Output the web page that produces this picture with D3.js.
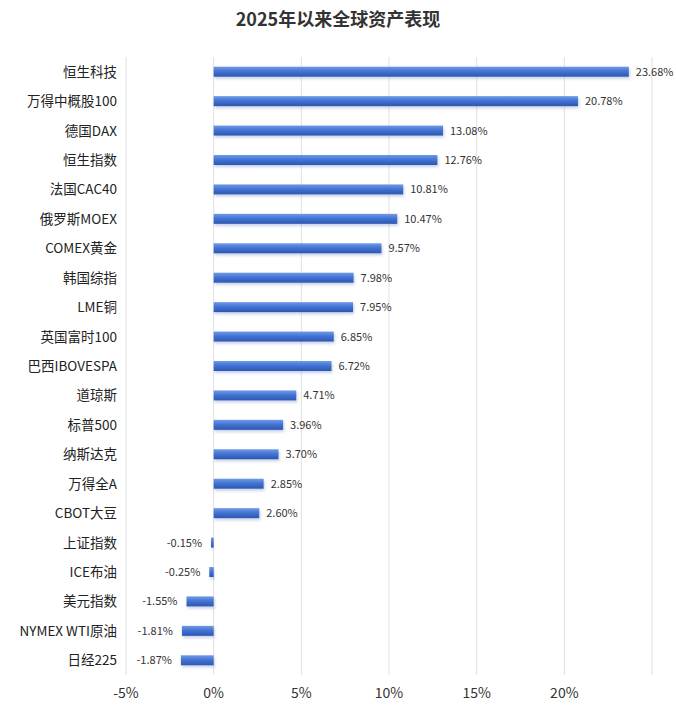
<!DOCTYPE html>
<html><head><meta charset="utf-8">
<script src="https://cdn.jsdelivr.net/npm/d3@7"></script>
<style>body{margin:0;background:#fff;font-family:"Noto Sans CJK SC","Noto Sans",sans-serif;}</style>
</head><body><svg id="c" width="676" height="716"></svg>
<script>
const categories = ["恒生科技","万得中概股100","德国DAX","恒生指数","法国CAC40","俄罗斯MOEX","COMEX黄金","韩国综指","LME铜","英国富时100","巴西IBOVESPA","道琼斯","标普500","纳斯达克","万得全A","CBOT大豆","上证指数","ICE布油","美元指数","NYMEX WTI原油","日经225"];
const values = [23.68,20.78,13.08,12.76,10.81,10.47,9.57,7.98,7.95,6.85,6.72,4.71,3.96,3.70,2.85,2.60,-0.15,-0.25,-1.55,-1.81,-1.87];
const ticks = [-5,0,5,10,15,20,25];
const tickLabels = ["-5%","0%","5%","10%","15%","20%",""];

const svg = d3.select("#c");
const x = d3.scaleLinear().domain([-5,25]).range([126,652]);
const y = d3.scaleBand().domain(categories).range([57,675]).paddingInner(0.66).paddingOuter(0.33);

const defs = svg.append("defs");
const g = defs.append("linearGradient").attr("id","bg").attr("x1",0).attr("y1",0).attr("x2",0).attr("y2",1);
g.append("stop").attr("offset","0%").attr("stop-color","#6f9ae6");
g.append("stop").attr("offset","45%").attr("stop-color","#4474d4");
g.append("stop").attr("offset","100%").attr("stop-color","#2c56b0");
const f = defs.append("filter").attr("id","sh").attr("x","-10%").attr("y","-50%").attr("width","120%").attr("height","250%");
f.append("feDropShadow").attr("dx",1).attr("dy",2).attr("stdDeviation",1.5).attr("flood-color","#8aa0d0").attr("flood-opacity",0.5);

svg.append("text").attr("x",338).attr("y",26).attr("text-anchor","middle")
  .attr("font-size",18).attr("font-weight","bold").attr("fill","#333")
  .attr("font-family","'Noto Sans CJK SC',sans-serif").text("2025年以来全球资产表现");

svg.append("g").selectAll("line").data(ticks).join("line")
  .attr("x1",d=>x(d)).attr("x2",d=>x(d)).attr("y1",57).attr("y2",675)
  .attr("stroke","#e0e0e0").attr("stroke-width",1);

svg.append("g").selectAll("text").data(ticks).join("text")
  .attr("x",d=>x(d)).attr("y",698).attr("text-anchor","middle")
  .attr("font-size",14).attr("fill","#333").text((d,i)=>tickLabels[i]);

svg.append("g").selectAll("text").data(categories).join("text")
  .attr("x",117).attr("y",d=>y(d)+y.bandwidth()/2+5).attr("text-anchor","end")
  .attr("font-size",13.5).attr("fill","#222").text(d=>d);

svg.append("g").selectAll("rect").data(values).join("rect")
  .attr("x",d=>x(Math.min(0,d))).attr("width",d=>Math.max(1.5,Math.abs(x(d)-x(0))))
  .attr("y",(d,i)=>y(categories[i])).attr("height",y.bandwidth())
  .attr("fill","url(#bg)").attr("filter","url(#sh)");

svg.append("g").selectAll("text").data(values).join("text")
  .attr("x",d=>d>=0?x(d)+7:x(d)-9).attr("y",(d,i)=>y(categories[i])+y.bandwidth()/2+4)
  .attr("text-anchor",d=>d>=0?"start":"end")
  .attr("font-size",11).attr("fill","#333").text(d=>d.toFixed(2)+"%");
</script></body></html>
